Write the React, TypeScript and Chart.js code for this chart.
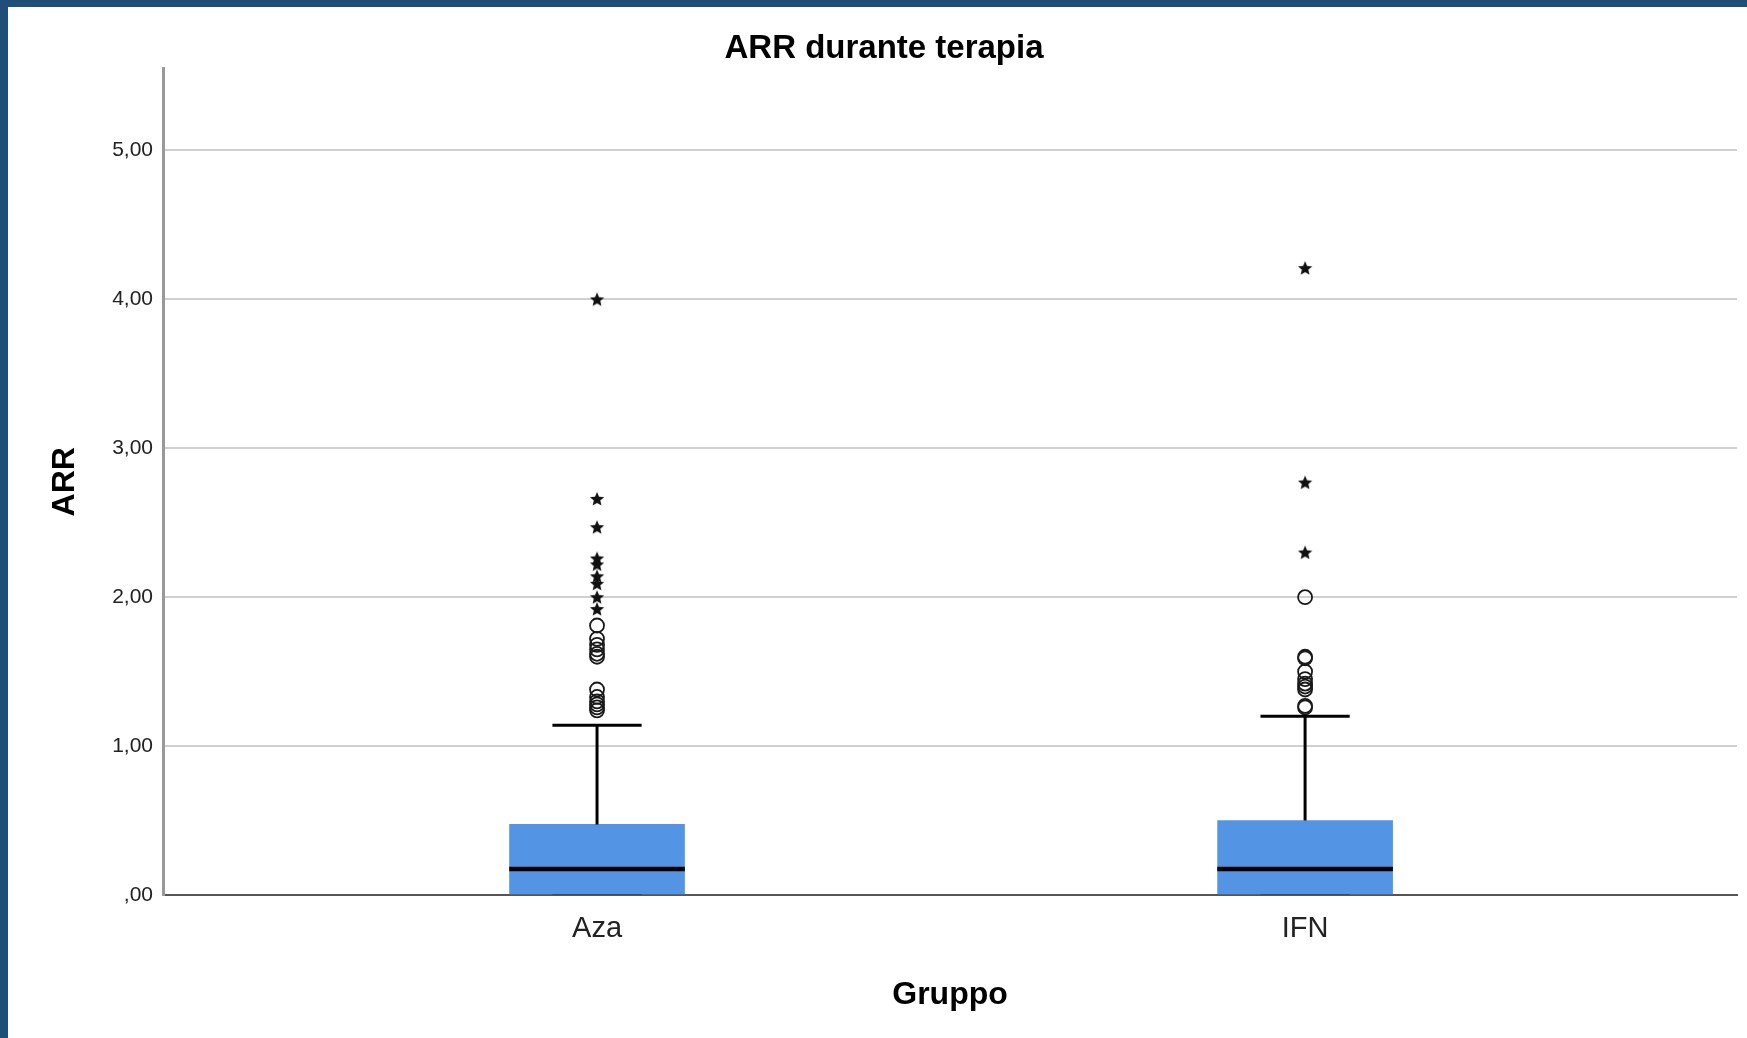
import React, { useEffect, useRef } from "react";
import { Chart, registerables } from "chart.js";

Chart.register(...registerables);

// ---- Data ----
const groups = ["Aza", "IFN"];
const q1 = [0, 0];
const medians = [0.174, 0.175];
const q3 = [0.474, 0.5];
const whiskerLow = [0, 0];
const whiskerHigh = [1.14, 1.2];
// outliers (circles)
const azaOutliers = [1.81, 1.72, 1.68, 1.65, 1.62, 1.6, 1.38, 1.33, 1.3, 1.28, 1.26, 1.24];
const ifnOutliers = [2.0, 1.6, 1.59, 1.5, 1.45, 1.42, 1.4, 1.38, 1.27, 1.26];
// extreme values (stars)
const azaExtremes = [4.0, 2.66, 2.47, 2.26, 2.22, 2.14, 2.09, 2.0, 1.92];
const ifnExtremes = [4.21, 2.77, 2.3];

const yTicks = [0, 1, 2, 3, 4, 5];
const yTickLabels = [",00", "1,00", "2,00", "3,00", "4,00", "5,00"];

const TITLE = "ARR durante terapia";
const X_TITLE = "Gruppo";
const Y_TITLE = "ARR";

// ---- Style constants ----
const BOX_COLOR = "#5494E5";
const FONT = "'Liberation Sans', Arial, Helvetica, sans-serif";
const BOX_HALF = 0.124;
const CAP_HALF = 0.063;

function makeStar(size: number): HTMLCanvasElement {
  const c = document.createElement("canvas");
  c.width = size;
  c.height = size;
  const ctx = c.getContext("2d")!;
  const cx = size / 2;
  const cy = size / 2 + 0.5;
  const outer = size / 2 - 0.5;
  const inner = outer * 0.45;
  ctx.beginPath();
  for (let i = 0; i < 10; i++) {
    const r = i % 2 === 0 ? outer : inner;
    const a = -Math.PI / 2 + (i * Math.PI) / 5;
    const x = cx + r * Math.cos(a);
    const y = cy + r * Math.sin(a);
    if (i === 0) ctx.moveTo(x, y);
    else ctx.lineTo(x, y);
  }
  ctx.closePath();
  ctx.fillStyle = "#111";
  ctx.fill();
  return c;
}

export default function App() {
  const ref = useRef<HTMLCanvasElement | null>(null);

  useEffect(() => {
    document.body.style.margin = "0";
    if (!ref.current) return;
    const star = makeStar(16);

    const seg = (pts: { x: number; y: number }[], width: number, order = 0, color = "#000") => ({
      type: "line" as const,
      data: pts,
      borderColor: color,
      borderWidth: width,
      pointRadius: 0,
      fill: false,
      order,
      tension: 0,
    });

    const datasets: any[] = [];
    // boxes
    datasets.push({
      type: "bar",
      data: groups.map((_, i) => ({ x: i + 1, y: [q1[i], q3[i]] })),
      backgroundColor: BOX_COLOR,
      borderWidth: 0,
      barThickness: 175,
      order: 5,
    });
    groups.forEach((_, i) => {
      const x = i + 1;
      datasets.push(seg([{ x, y: q3[i] }, { x, y: whiskerHigh[i] }], 3));
      datasets.push(seg([{ x, y: whiskerLow[i] }, { x, y: q1[i] }], 3, 10));
      datasets.push(seg([{ x: x - CAP_HALF, y: whiskerHigh[i] }, { x: x + CAP_HALF, y: whiskerHigh[i] }], 3));
      datasets.push(seg([{ x: x - CAP_HALF, y: whiskerLow[i] }, { x: x + CAP_HALF, y: whiskerLow[i] }], 3, 10, "#333"));
      datasets.push(seg([{ x: x - BOX_HALF, y: medians[i] }, { x: x + BOX_HALF, y: medians[i] }], 4.5));
    });
    const outlierSets = [azaOutliers, ifnOutliers];
    const extremeSets = [azaExtremes, ifnExtremes];
    outlierSets.forEach((arr, i) => {
      datasets.push({
        type: "scatter",
        data: arr.map((v) => ({ x: i + 1, y: v })),
        pointStyle: "circle",
        pointRadius: 7,
        borderColor: "#1a1a1a",
        borderWidth: 1.8,
        backgroundColor: "rgba(0,0,0,0)",
        order: 0,
      });
    });
    extremeSets.forEach((arr, i) => {
      datasets.push({
        type: "scatter",
        data: arr.map((v) => ({ x: i + 1, y: v })),
        pointStyle: star,
        pointRadius: 8,
        order: 0,
      });
    });

    const chart = new Chart(ref.current, {
      type: "bar",
      data: { datasets },
      options: {
        animation: false,
        responsive: false,
        maintainAspectRatio: false,
        layout: { padding: { left: 23, right: 10, top: 0, bottom: 0 } },
        plugins: {
          legend: { display: false },
          tooltip: { enabled: false },
          title: {
            display: true,
            text: TITLE,
            color: "#000",
            font: { family: FONT, size: 33, weight: "bold" },
            padding: { top: 22, bottom: 0 },
          },
        },
        scales: {
          x: {
            type: "linear",
            min: 0.387,
            max: 2.61,
            offset: false,
            grid: { display: false, drawTicks: false, offset: false },
            border: { display: true, color: "#555", width: 2 },
            afterBuildTicks: (scale: any) => {
              scale.ticks = groups.map((_, i) => ({ value: i + 1 }));
            },
            afterFit: (scale: any) => {
              scale.height = 143;
            },
            ticks: {
              autoSkip: false,
              maxRotation: 0,
              minRotation: 0,
              padding: 17,
              color: "#222",
              font: { family: FONT, size: 29 },
              callback: (_v: any, i: number) => groups[i] ?? "",
            },
            title: {
              display: true,
              text: X_TITLE,
              color: "#000",
              font: { family: FONT, size: 32, weight: "bold" },
              padding: { top: 0, bottom: 23.5 },
            },
          },
          y: {
            type: "linear",
            min: 0,
            max: 5.55,
            grid: { color: "#d0d0d0", lineWidth: 2, drawTicks: false },
            border: { display: true, color: "#999", width: 3 },
            afterBuildTicks: (scale: any) => {
              scale.ticks = yTicks.map((v) => ({ value: v }));
            },
            afterFit: (scale: any) => {
              scale.width = 132;
            },
            ticks: {
              padding: 10,
              color: "#222",
              font: { family: FONT, size: 21 },
              callback: (_v: any, i: number) => yTickLabels[i] ?? "",
            },
            title: {
              display: true,
              text: Y_TITLE,
              color: "#000",
              font: { family: FONT, size: 32, weight: "bold" },
              padding: { top: 15, bottom: 0 },
            },
          },
        },
      } as any,
    });
    return () => chart.destroy();
  }, []);

  return (
    <div
      style={{
        width: 1747,
        height: 1038,
        boxSizing: "border-box",
        borderTop: "7px solid #1F4E79",
        borderLeft: "8px solid #1F4E79",
        background: "#fff",
        overflow: "hidden",
      }}
    >
      <canvas ref={ref} width={1739} height={1031} style={{ display: "block" }} />
    </div>
  );
}
